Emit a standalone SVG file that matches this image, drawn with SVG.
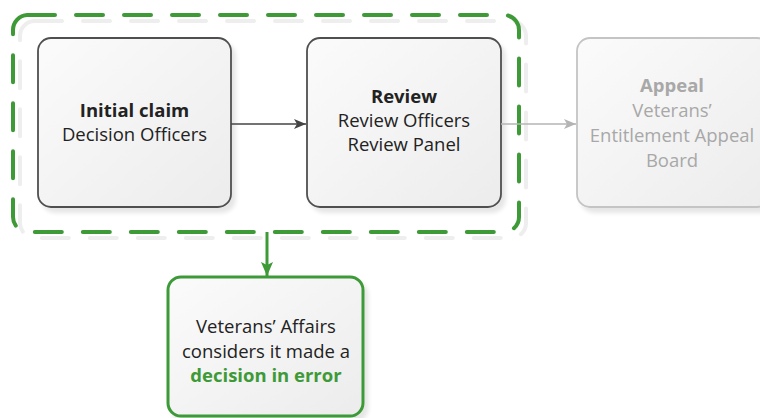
<svg xmlns="http://www.w3.org/2000/svg" width="760" height="418" viewBox="0 0 760 418">
<defs>
<linearGradient id="g" x1="0" y1="0" x2="1" y2="1">
<stop offset="0" stop-color="#fbfbfb"/>
<stop offset="1" stop-color="#ececec"/>
</linearGradient>
<filter id="sh" x="-10%" y="-10%" width="130%" height="130%">
<feGaussianBlur in="SourceAlpha" stdDeviation="2"/>
<feOffset dx="4" dy="5" result="b"/>
<feComponentTransfer><feFuncA type="linear" slope="0.1"/></feComponentTransfer>
<feMerge><feMergeNode/><feMergeNode in="SourceGraphic"/></feMerge>
</filter>
<marker id="ad" viewBox="0 0 12 10" refX="12" refY="5" markerWidth="12" markerHeight="10" markerUnits="userSpaceOnUse" orient="auto">
<path d="M0,0 L12,5 L0,10 L3,5 Z" fill="#444"/>
</marker>
<marker id="ag" viewBox="0 0 12 10" refX="12" refY="5" markerWidth="12" markerHeight="10" markerUnits="userSpaceOnUse" orient="auto">
<path d="M0,0 L12,5 L0,10 L3,5 Z" fill="#b4b4b4"/>
</marker>
<marker id="agr" viewBox="0 0 14 12" refX="14" refY="6" markerWidth="14" markerHeight="12" markerUnits="userSpaceOnUse" orient="auto">
<path d="M0,0 L14,6 L0,12 L3,6 Z" fill="#3d9a37"/>
</marker>
</defs>
<style>
text{font-family:"Open Sans","Noto Sans",sans-serif;font-size:18.5px;text-anchor:middle;fill:#222}
.b{font-weight:bold}
.box{fill:url(#g);stroke:#505050;stroke-width:1.8}
.dim{fill:url(#g);stroke:#c4c4c4;stroke-width:1.8}
text.dt{fill:#a8a8a8}
.gt{fill:#3d9a37;font-weight:bold}
</style>
<g id="scope">
<rect x="20" y="21" width="506" height="217" rx="15" fill="none" stroke="#eeeeee" stroke-width="4" stroke-dasharray="27 21" stroke-linecap="round"/>
<rect x="13" y="15" width="506" height="217" rx="15" fill="none" stroke="#3d9a37" stroke-width="4" stroke-dasharray="27 21" stroke-linecap="round"/>
</g>
<g id="initial">
<rect class="box" x="38" y="38" width="193" height="169" rx="13" filter="url(#sh)"/>
<text class="b" x="134.5" y="117">Initial claim</text>
<text x="134.5" y="141">Decision Officers</text>
</g>
<g id="review">
<rect class="box" x="307" y="38" width="194" height="169" rx="13" filter="url(#sh)"/>
<text class="b" x="404" y="103">Review</text>
<text x="404" y="127">Review Officers</text>
<text x="404" y="151">Review Panel</text>
</g>
<g id="appeal">
<rect class="dim" x="577" y="38" width="193" height="169" rx="13" filter="url(#sh)"/>
<text class="b dt" x="672" y="92">Appeal</text>
<text class="dt" x="672" y="117">Veterans’</text>
<text class="dt" x="672" y="142">Entitlement Appeal</text>
<text class="dt" x="672" y="167">Board</text>
</g>
<g id="error">
<rect x="168" y="277" width="195" height="139" rx="13" fill="url(#g)" stroke="#3d9a37" stroke-width="3" filter="url(#sh)"/>
<text x="266" y="333">Veterans’ Affairs</text>
<text x="266" y="358">considers it made a</text>
<text class="gt" x="266" y="382">decision in error</text>
</g>
<g id="connectors" fill="none">
<line x1="231" y1="124" x2="306" y2="124" stroke="#444" stroke-width="1.6" marker-end="url(#ad)"/>
<line x1="501" y1="124" x2="576" y2="124" stroke="#b4b4b4" stroke-width="1.6" marker-end="url(#ag)"/>
<line x1="267" y1="232" x2="267" y2="276" stroke="#3d9a37" stroke-width="3" marker-end="url(#agr)"/>
</g>
</svg>
